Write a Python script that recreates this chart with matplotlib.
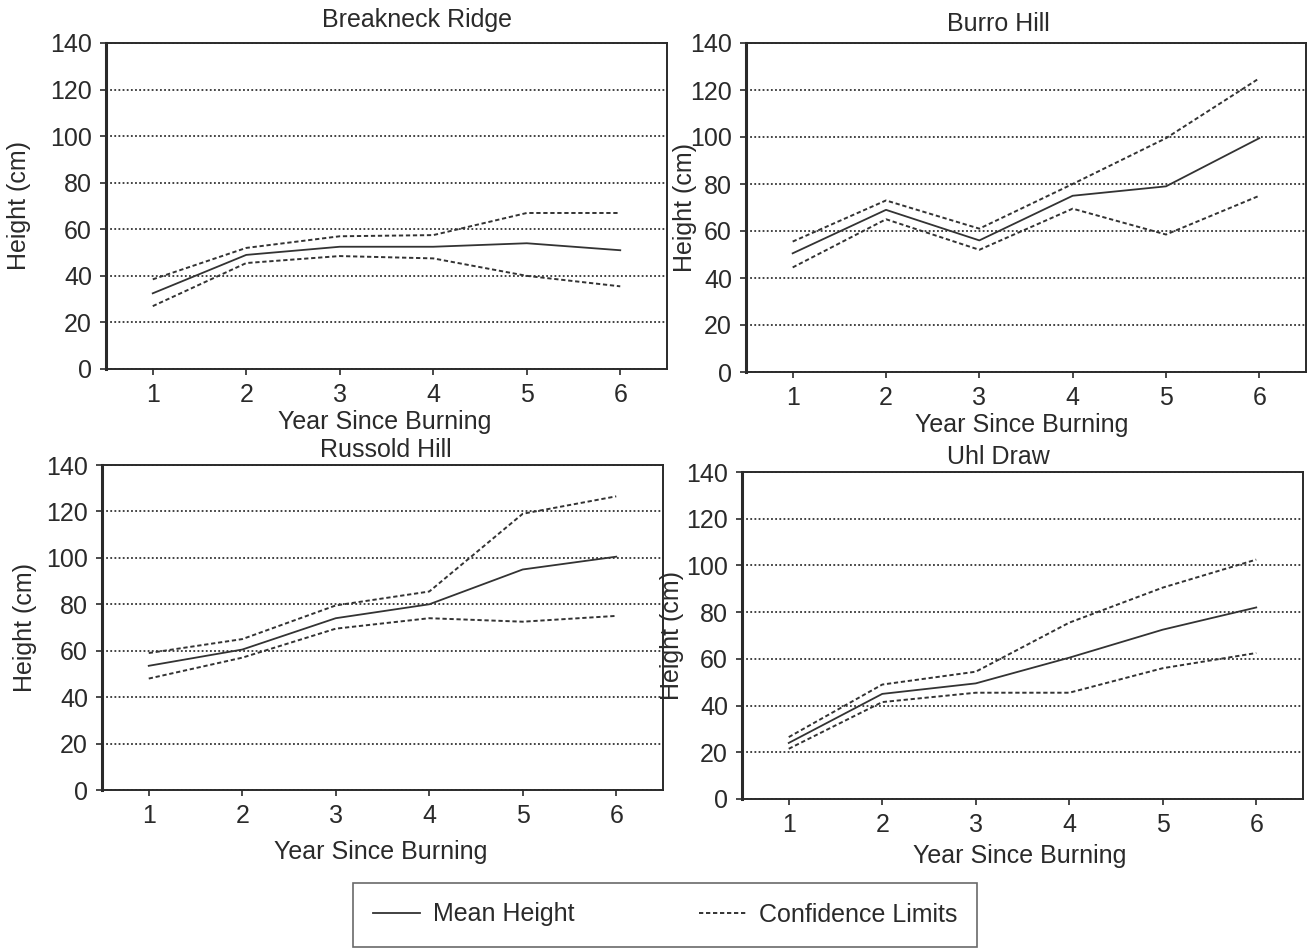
import matplotlib
matplotlib.use("Agg")
import matplotlib.pyplot as plt
from matplotlib.lines import Line2D

plt.rcParams['font.family'] = ['Liberation Sans', 'DejaVu Sans']

years = [1, 2, 3, 4, 5, 6]
sites = ["Breakneck Ridge", "Burro Hill", "Russold Hill", "Uhl Draw"]

breakneck_mean = [32.5, 49, 52.5, 52.5, 54, 51]
breakneck_upper = [38.5, 52, 57, 57.5, 67, 67]
breakneck_lower = [27, 45.5, 48.5, 47.5, 40, 35.5]

burro_mean = [50.5, 69, 56, 75, 79, 99.5]
burro_upper = [55.5, 73, 61, 80, 99.5, 125]
burro_lower = [44.5, 65, 52, 69.5, 58.5, 75]

russold_mean = [53.5, 60.5, 74, 80, 95, 100.5]
russold_upper = [59, 65, 79.5, 85.5, 119, 126.5]
russold_lower = [48, 57, 69.5, 74, 72.5, 75]

uhl_mean = [24, 45, 49.5, 60.5, 72.5, 82]
uhl_upper = [26.5, 49, 54.5, 75.5, 90.5, 102.5]
uhl_lower = [21.5, 41.5, 45.5, 45.5, 56, 62.5]

series = {
    "Breakneck Ridge": (breakneck_mean, breakneck_upper, breakneck_lower),
    "Burro Hill": (burro_mean, burro_upper, burro_lower),
    "Russold Hill": (russold_mean, russold_upper, russold_lower),
    "Uhl Draw": (uhl_mean, uhl_upper, uhl_lower),
}

yticks = [0, 20, 40, 60, 80, 100, 120, 140]

W, H = 1309, 952
fig = plt.figure(figsize=(W / 100, H / 100), dpi=100)

# panel boxes in pixels: left, right, top, bottom
boxes = {
    "Breakneck Ridge": (106, 667, 43, 369),
    "Burro Hill": (746, 1306, 43, 372),
    "Russold Hill": (102, 663, 465, 790),
    "Uhl Draw": (742, 1303, 472, 799),
}
titles_px = {
    "Breakneck Ridge": (417, 20),
    "Burro Hill": (998, 24),
    "Russold Hill": (386, 450),
    "Uhl Draw": (998, 457),
}
xlabels_px = {
    "Breakneck Ridge": (385, 422),
    "Burro Hill": (1022, 425),
    "Russold Hill": (381, 852),
    "Uhl Draw": (1020, 856),
}
# center x of the rotated y label
ylabel_x_px = {
    "Breakneck Ridge": 20,
    "Burro Hill": 686,
    "Russold Hill": 26,
    "Uhl Draw": 673,
}

dark = "#2a2a2a"
FS = 18
dash = (0, (2.2, 1.4))

for site in sites:
    l, r, t, b = boxes[site]
    ax = fig.add_axes([l / W, 1 - b / H, (r - l) / W, (b - t) / H])
    mean, up, lo = series[site]
    ax.plot(years, mean, color="#333333", lw=1.3, solid_joinstyle="round")
    ax.plot(years, up, color="#333333", lw=1.4, linestyle=dash)
    ax.plot(years, lo, color="#333333", lw=1.4, linestyle=dash)
    ax.set_xlim(0.5, 6.5)
    ax.set_ylim(0, 140)
    ax.set_xticks(years)
    ax.set_yticks(yticks)
    ax.tick_params(axis="both", direction="out", length=4, width=1.2,
                   colors=dark, labelsize=FS, pad=6)
    ax.yaxis.grid(True, color="#333333", linestyle=(0, (1, 1.3)), lw=1.3)
    ax.set_axisbelow(True)
    for name, sp in ax.spines.items():
        sp.set_color(dark)
        sp.set_linewidth(1.4)
    ax.spines["left"].set_linewidth(2.2)
    ax.set_ylabel("Height (cm)", fontsize=FS, color=dark)
    ax.yaxis.set_label_coords((ylabel_x_px[site] + 11 - l) / (r - l), 0.5)
    tx, ty = titles_px[site]
    fig.text(tx / W, 1 - ty / H, site, ha="center", va="center", fontsize=FS, color=dark)
    xx, xy = xlabels_px[site]
    fig.text(xx / W, 1 - xy / H, "Year Since Burning", ha="center", va="center",
             fontsize=FS, color=dark)

handles = [Line2D([], [], color="#333333", lw=1.3),
           Line2D([], [], color="#333333", lw=1.4, linestyle=dash)]
leg = fig.legend(handles, ["Mean Height", "Confidence Limits"], loc="center",
                 bbox_to_anchor=(665 / W, 1 - 914.5 / H), ncol=2, fontsize=FS,
                 frameon=True, fancybox=False, edgecolor="#444444",
                 handlelength=1.9, handletextpad=0.5, columnspacing=5.0,
                 borderpad=0.8)
leg.get_frame().set_linewidth(1.2)
for txt in leg.get_texts():
    txt.set_color(dark)

fig.savefig("out.png", dpi=100, facecolor="white")
